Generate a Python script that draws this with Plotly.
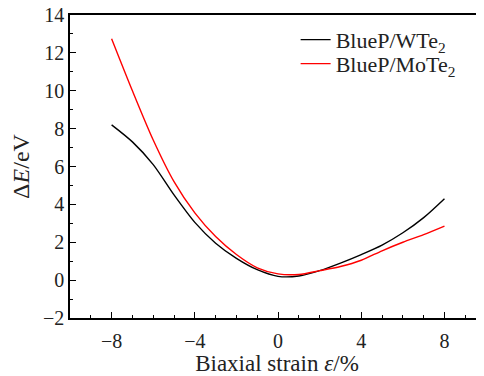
import plotly.graph_objects as go

strain = [-8, -7, -6, -5, -4, -3, -2, -1, 0, 1, 2, 3, 4, 5, 6, 7, 8]
de_wte2 = [8.2, 7.3, 6.1, 4.5, 3.05, 1.95, 1.15, 0.55, 0.2, 0.22, 0.5, 0.9, 1.35, 1.85, 2.5, 3.3, 4.3]
de_mote2 = [12.75, 10.0, 7.4, 5.2, 3.55, 2.3, 1.35, 0.65, 0.33, 0.3, 0.5, 0.72, 1.05, 1.55, 2.0, 2.4, 2.85]

x_ticks = [-8, -4, 0, 4, 8]
y_ticks = [-2, 0, 2, 4, 6, 8, 10, 12, 14]

FONT = "Liberation Serif"

fig = go.Figure()
fig.add_trace(go.Scatter(x=strain, y=de_wte2, mode="lines", name="BlueP/WTe<sub>2</sub>",
                         legend="legend",
                         line=dict(color="black", width=1.4, shape="spline", smoothing=0.8)))
fig.add_trace(go.Scatter(x=strain, y=de_mote2, mode="lines", name="BlueP/MoTe<sub>2</sub>",
                         legend="legend2",
                         line=dict(color="red", width=1.4, shape="spline", smoothing=0.8)))

leg_common = dict(x=0.545, xanchor="left", yanchor="middle", bgcolor="rgba(0,0,0,0)",
                  font=dict(family=FONT, size=22, color="#222"))

fig.update_layout(
    width=476, height=368,
    margin=dict(l=62, r=0, t=7, b=58, autoexpand=False),
    paper_bgcolor="white", plot_bgcolor="white",
    font=dict(family=FONT, size=20, color="#222"),
    showlegend=True,
    legend=dict(y=0.918, **leg_common),
    legend2=dict(y=0.839, **leg_common),
    xaxis=dict(range=[-10, 9.9], tickvals=x_ticks, ticks="inside", ticklen=6, tickwidth=1,
               tickcolor="black", showline=True, linecolor="black", linewidth=1.5, mirror=True,
               showgrid=False, zeroline=False, automargin=False, ticklabelstandoff=4,
               ticklabeloverflow="allow",
               tickfont=dict(family=FONT, size=20, color="#222"),
               minor=dict(ticks="inside", ticklen=3, dtick=1, tickcolor="black", showgrid=False),
               title=dict(text="Biaxial strain <i>ε</i>/%", standoff=8,
                          font=dict(family=FONT, size=23, color="#222"))),
    yaxis=dict(range=[-2, 14], tickvals=y_ticks, ticks="inside", ticklen=6, tickwidth=1,
               tickcolor="black", showline=True, linecolor="black", linewidth=1.5,
               showgrid=False, zeroline=False, automargin=False, ticklabeloverflow="allow",
               tickfont=dict(family=FONT, size=20, color="#222"),
               minor=dict(ticks="inside", ticklen=3, dtick=1, tickcolor="black", showgrid=False),
               title=dict(text="Δ<i>E</i>/eV", standoff=12,
                          font=dict(family=FONT, size=24, color="#222"))),
)

fig.write_html("out.html")
